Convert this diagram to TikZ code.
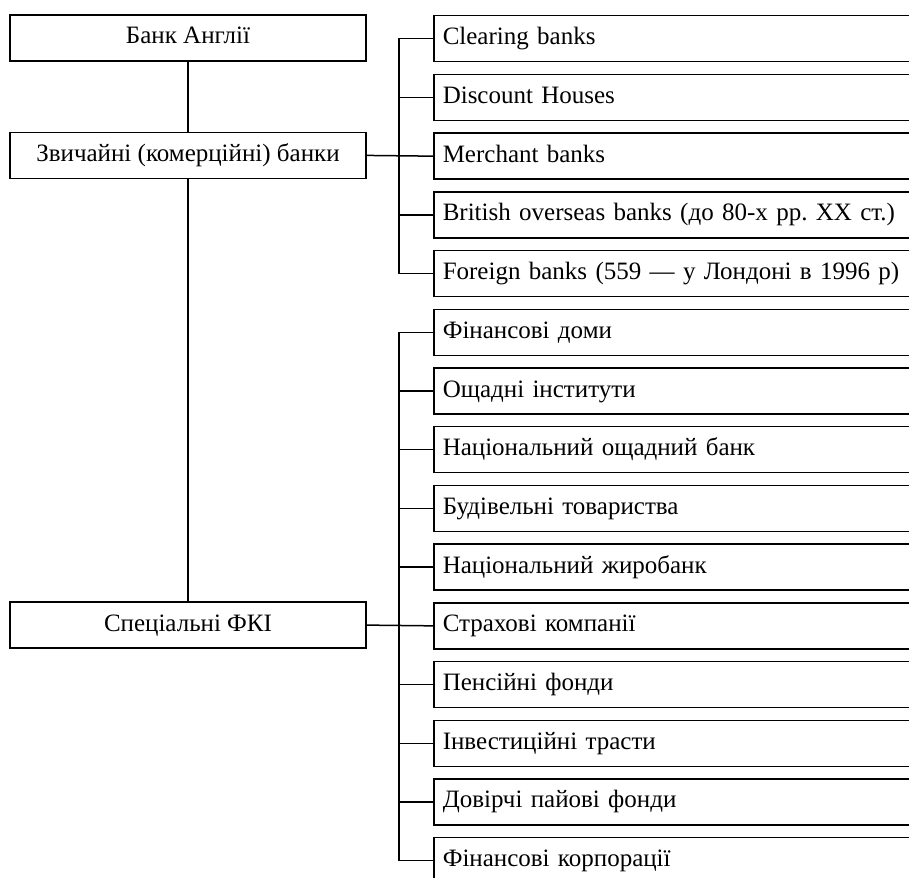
\documentclass[tikz,border=0pt]{standalone}
\usepackage{fontspec}
\setmainfont{Liberation Serif}
\begin{document}
\frenchspacing
\begin{tikzpicture}[x=1pt,y=-1pt,
  font=\fontsize{25}{30}\selectfont,
  box/.style={draw, line width=1.5pt, rectangle, minimum height=46pt, inner sep=0pt, text height=18pt, text depth=6pt},
  lbox/.style={box, minimum width=356pt},
  rbox/.style={box, anchor=north west, text width=582pt, inner xsep=9pt, align=left},
  conn/.style={line width=1.5pt}]
\useasboundingbox (0,0) rectangle (909,877);
\clip (0,0) rectangle (909,877);
\foreach \t [count=\i from 0] in {Clearing banks, Discount Houses, Merchant banks,
  British overseas banks (до 80-х рр. XX ст.), Foreign banks (559 — у Лондоні в 1996 р),
  Фінансові доми, Ощадні інститути, Національний ощадний банк, Будівельні товариства,
  Національний жиробанк, Страхові компанії, Пенсійні фонди, Інвестиційні трасти,
  Довірчі пайові фонди, Фінансові корпорації}
  \node[rbox] (r\i) at (433, 15+58.71*\i) {\t};
\node[lbox] (bank) at (188, 38) {Банк Англії};
\node[lbox] (zv) at (188, 155.42) {Звичайні (комерційні) банки};
\node[lbox] (spec) at (188, 625.1) {Спеціальні ФКІ};
\draw[conn] (bank.south) -- (zv.north);
\draw[conn] (zv.south) -- (spec.north);
\draw[conn] (zv.east) -- (r2.west);
\draw[conn] (spec.east) -- (r10.west);
\draw[conn] (r0.west) -- ++(-34,0) |- (r4.west);
\foreach \i in {1,3} \draw[conn] (r\i.west) -- ++(-34,0);
\draw[conn] (r5.west) -- ++(-34,0) |- (r14.west);
\foreach \i in {6,7,8,9,11,12,13} \draw[conn] (r\i.west) -- ++(-34,0);
\end{tikzpicture}
\end{document}
